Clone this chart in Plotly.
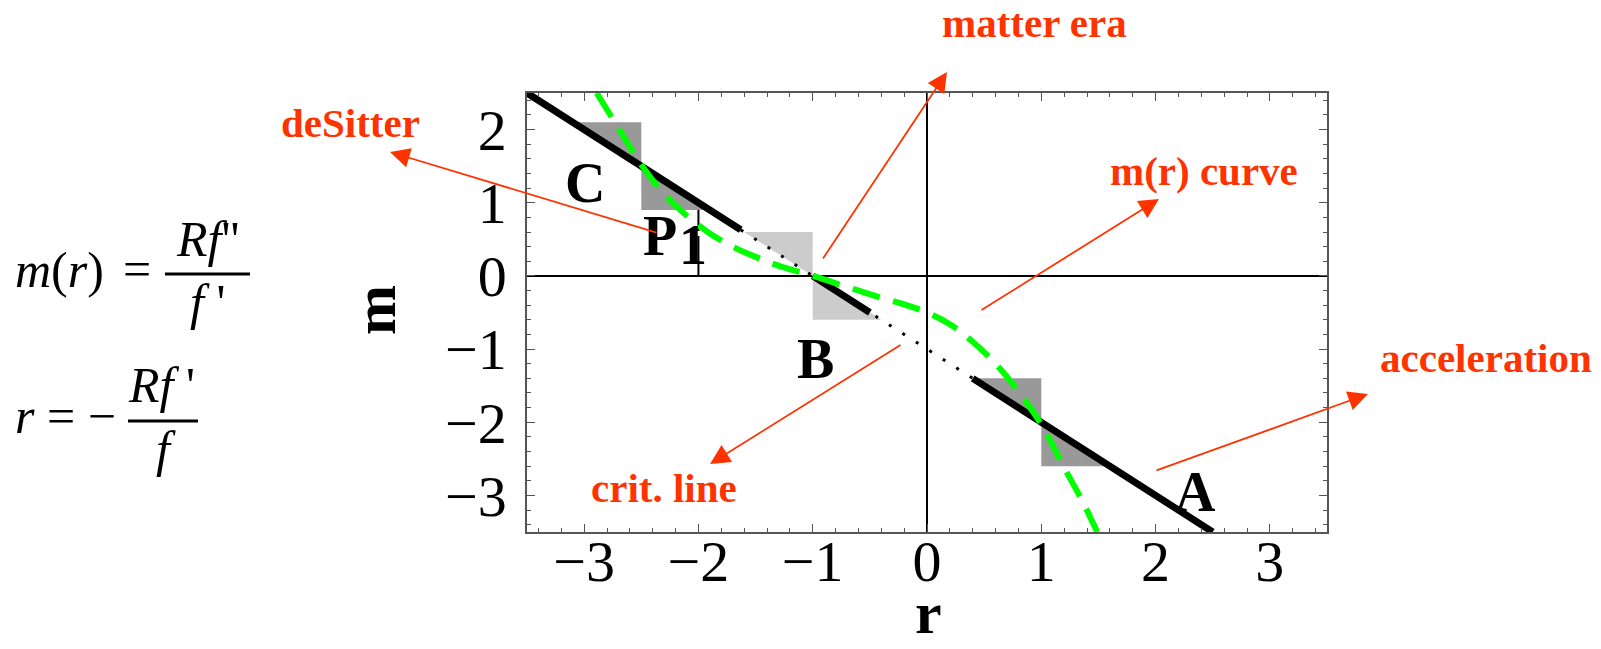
import plotly.graph_objects as go

# ---- figure geometry (pixels) ----
W, H = 1601, 649
M_L, M_R, M_T, M_B = 527, 274, 93, 117
PW, PH = W - M_L - M_R, H - M_T - M_B

RED = "#ff3300"
SERIF = "Liberation Serif"

# ---- data ----
# critical line m = -r - 1 : solid pieces and the dotted stretch between them
crit_a_r = [-3.5, -1.63]
crit_a_m = [2.5, 0.63]
crit_b_r = [-1.0, -0.5]
crit_b_m = [0.0, -0.5]
crit_c_r = [0.4, 2.5]
crit_c_m = [-1.4, -3.5]
crit_dot_r = [-1.63, 0.4]
crit_dot_m = [0.63, -1.4]

# m(r) curve
curve_r = [-2.89, -2.7, -2.5, -2.3, -2.1, -1.9, -1.7, -1.5, -1.3, -1.0,
           -0.7, -0.4, -0.2, 0.0, 0.2, 0.4, 0.6, 0.8, 1.0, 1.2, 1.35, 1.49]
curve_m = [2.50, 2.02, 1.52, 1.12, 0.82, 0.58, 0.40, 0.26, 0.14, 0.0,
           -0.15, -0.30, -0.39, -0.50, -0.66, -0.90, -1.20, -1.58, -2.03, -2.62, -3.05, -3.5]

# shaded regions next to the critical line
region_C_r, region_C_m = [-3.1, -2.5, -2.5], [2.1, 2.1, 1.5]
region_P1_r, region_P1_m = [-2.5, -2.5, -1.9], [1.5, 0.9, 0.9]
region_B1_r, region_B1_m = [-1.6, -1.0, -1.0], [0.6, 0.6, 0.0]
region_B2_r, region_B2_m = [-1.0, -1.0, -0.4], [0.0, -0.6, -0.6]
region_A1_r, region_A1_m = [0.4, 1.0, 1.0], [-1.4, -1.4, -2.0]
region_A2_r, region_A2_m = [1.0, 1.0, 1.6], [-2.0, -2.6, -2.6]

# P1 marker: vertical dashed segment at r = -2
p1_r = [-2.0, -2.0]
p1_m = [0.0, 0.9]

# point labels (r, m)
point_labels = ["C", "P", "1", "B", "A"]
point_r = [-2.99, -2.34, -2.05, -0.98, 2.35]
point_m = [1.27, 0.55, 0.42, -1.14, -2.96]

x_ticks = [-3, -2, -1, 0, 1, 2, 3]
y_ticks = [-3, -2, -1, 0, 1, 2]


def px(x):
    return (x - M_L) / PW


def py(y):
    return (H - M_B - y) / PH


fig = go.Figure()

dark = "#999999"
light = "#cccccc"
for rr, mm, col in [(region_C_r, region_C_m, dark), (region_P1_r, region_P1_m, dark),
                    (region_B1_r, region_B1_m, light), (region_B2_r, region_B2_m, light),
                    (region_A1_r, region_A1_m, dark), (region_A2_r, region_A2_m, dark)]:
    fig.add_trace(go.Scatter(x=rr, y=mm, mode="lines", fill="toself", fillcolor=col,
                             line=dict(width=0, color=col), hoverinfo="skip"))

fig.add_trace(go.Scatter(x=crit_dot_r, y=crit_dot_m, mode="lines",
                         line=dict(color="black", width=3, dash="3px,13px")))
for rr, mm in [(crit_a_r, crit_a_m), (crit_b_r, crit_b_m), (crit_c_r, crit_c_m)]:
    fig.add_trace(go.Scatter(x=rr, y=mm, mode="lines", cliponaxis=False,
                             line=dict(color="black", width=7)))

fig.add_trace(go.Scatter(x=p1_r, y=p1_m, mode="lines",
                         line=dict(color="black", width=2, dash="40px,5px")))

fig.add_trace(go.Scatter(x=curve_r, y=curve_m, mode="lines",
                         line=dict(color="#00ff00", width=6, dash="28px,14px", shape="spline")))

annotations = []
for t, r, m in zip(point_labels, point_r, point_m):
    annotations.append(dict(x=r, y=m, xref="x", yref="y", text="<b>%s</b>" % t,
                            xanchor="center", yanchor="middle",
                            showarrow=False, font=dict(family=SERIF, size=56, color="black")))


def paper_text(text, x, y, size, color="black", xanchor="center", angle=0):
    annotations.append(dict(x=px(x), y=py(y), xref="paper", yref="paper", text=text,
                            xanchor=xanchor, yanchor="middle", textangle=angle,
                            showarrow=False, font=dict(family=SERIF, size=size, color=color)))


# axis titles
paper_text("<b>m</b>", 375, 310, 60, angle=-90)
paper_text("<b>r</b>", 928, 613, 60)

# red labels with arrows
red_labels = [
    ("deSitter", 350, 137, (390, 152), (658, 233)),
    ("matter era", 1034, 37, (947, 72), (822, 260)),
    ("m(r) curve", 1204, 185, (1159, 199), (980, 311)),
    ("acceleration", 1486, 372, (1368, 394), (1155, 471)),
    ("crit. line", 664, 502, (710, 464), (902, 344)),
]
fs = 41
for text, cx, base, head, tail in red_labels:
    paper_text("<b>%s</b>" % text, cx, base - 0.3375 * fs, fs, color=RED)
    annotations.append(dict(x=px(head[0]), y=py(head[1]), xref="paper", yref="paper",
                            text="", showarrow=True, arrowhead=2, arrowsize=2.2, arrowwidth=1.8,
                            arrowcolor=RED, ax=tail[0] - head[0], ay=tail[1] - head[1],
                            axref="pixel", ayref="pixel", standoff=0))

# formulas on the left: each row is centred on its fraction bar
ff = 50
paper_text("<i>m</i>(<i>r</i>)", 13, 270, ff, xanchor="left")
paper_text("=", 137, 269, ff)
paper_text("<i>Rf</i>''", 207, 239, ff)
paper_text("<i>f</i> '", 207, 302, ff)
paper_text("<i>r</i> = −", 13, 416, ff, xanchor="left")
paper_text("<i>Rf</i> '", 161, 385, ff)
paper_text("<i>f</i>", 166, 449, ff)

shapes = [
    dict(type="line", xref="paper", yref="paper", x0=px(165), x1=px(250), y0=py(274), y1=py(274),
         line=dict(color="black", width=3)),
    dict(type="line", xref="paper", yref="paper", x0=px(128), x1=px(198), y0=py(421), y1=py(421),
         line=dict(color="black", width=3)),
]

axis_common = dict(
    showgrid=False, zeroline=True, zerolinecolor="black", zerolinewidth=1.5,
    showline=True, linecolor="#555555", linewidth=1.5, mirror="allticks",
    ticks="inside", ticklen=8, tickwidth=1.2, tickcolor="#555555",
    minor=dict(dtick=0.2, ticks="inside", ticklen=4, tickwidth=1, tickcolor="#555555"),
    tickfont=dict(family=SERIF, size=58, color="black"),
    automargin=False, fixedrange=True,
)

fig.update_layout(
    width=W, height=H, autosize=False,
    margin=dict(l=M_L, r=M_R, t=M_T, b=M_B, pad=0),
    paper_bgcolor="white", plot_bgcolor="white",
    showlegend=False,
    xaxis=dict(range=[-3.5, 3.5], tickvals=x_ticks, ticklabelstandoff=-22, **axis_common),
    yaxis=dict(range=[-3.5, 2.5], tickvals=y_ticks, ticklabelstandoff=7, **axis_common),
    annotations=annotations,
    shapes=shapes,
)

fig.write_html("out.html", config={"displayModeBar": False})
